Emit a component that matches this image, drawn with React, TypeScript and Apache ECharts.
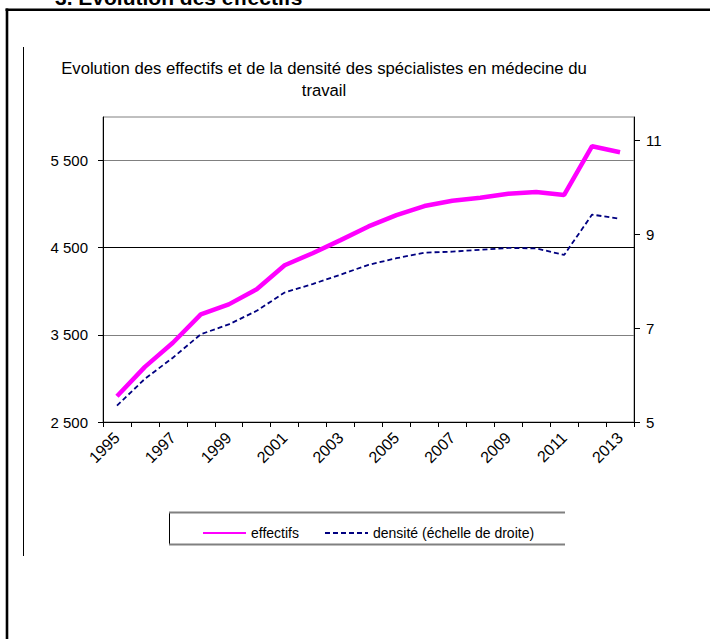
import React, { useEffect, useRef } from "react";
import * as echarts from "echarts";

const years = ["1995","1996","1997","1998","1999","2000","2001","2002","2003","2004","2005","2006","2007","2008","2009","2010","2011","2012","2013"];
const effectifs = [2795, 3133, 3409, 3735, 3850, 4023, 4299, 4437, 4587, 4744, 4874, 4978, 5039, 5074, 5120, 5139, 5105, 5665, 5595];
const densite = [5.35, 5.92, 6.37, 6.87, 7.08, 7.37, 7.76, 7.94, 8.14, 8.35, 8.49, 8.61, 8.63, 8.67, 8.71, 8.7, 8.56, 9.42, 9.33];
const leftTicks = [2500, 3500, 4500, 5500];
const rightTicks = [5, 7, 9, 11];
const seriesNames = ["effectifs", "densité (échelle de droite)"];
const chartTitle = "Evolution des effectifs et de la densité des spécialistes en médecine du\ntravail";
const sectionHeading = "3. Evolution des effectifs";

const FONT = "'Liberation Sans', Arial, sans-serif";

function fmtThousands(v: number): string {
  return String(v).replace(/\B(?=(\d{3})+$)/g, " ");
}

export default function App() {
  const ref = useRef<HTMLDivElement>(null);
  useEffect(() => {
    if (!ref.current) return;
    const chart = echarts.init(ref.current, null, { renderer: "svg" });
    chart.setOption({
      animation: false,
      backgroundColor: "#ffffff",
      textStyle: { fontFamily: FONT },
      grid: {
        left: 103,
        right: 76,
        top: 117,
        bottom: 217,
        show: true,
        borderColor: "#808080",
        borderWidth: 1,
        outerBoundsMode: "none",
      },
      legend: {
        left: 197,
        top: 521,
        itemWidth: 43,
        itemHeight: 14,
        itemGap: 25,
        selectedMode: false,
        itemStyle: { opacity: 0 },
        textStyle: { fontSize: 14, color: "#000", fontFamily: FONT },
        data: seriesNames,
      },
      xAxis: {
        type: "category",
        data: years,
        boundaryGap: true,
        axisLine: { lineStyle: { color: "#000", width: 1 } },
        axisTick: { show: true, interval: 0, length: 5, lineStyle: { color: "#000" } },
        axisLabel: {
          interval: 1,
          rotate: 45,
          margin: 13,
          fontSize: 16,
          color: "#000",
          fontFamily: FONT,
        },
        splitLine: { show: false },
      },
      yAxis: [
        {
          type: "value",
          min: 2500,
          max: 6000,
          position: "left",
          axisLine: { show: true, lineStyle: { color: "#000", width: 1 } },
          axisTick: { show: true, length: 5, customValues: leftTicks, lineStyle: { color: "#000" } },
          axisLabel: {
            customValues: leftTicks,
            margin: 15,
            fontSize: 15,
            color: "#000",
            fontFamily: FONT,
            formatter: (v: number) => fmtThousands(v),
          },
          splitLine: {
            show: true,
            lineStyle: { color: ["#808080", "#808080", "#000000", "#808080"], width: 1 },
          },
        },
        {
          type: "value",
          min: 5,
          max: 11.5,
          position: "right",
          axisLine: { show: true, lineStyle: { color: "#000", width: 1 } },
          axisTick: { show: true, length: 6, customValues: rightTicks, lineStyle: { color: "#000" } },
          axisLabel: {
            customValues: rightTicks,
            margin: 12,
            fontSize: 15,
            color: "#000",
            fontFamily: FONT,
          },
          splitLine: { show: false },
        },
      ],
      series: [
        {
          name: seriesNames[0],
          type: "line",
          data: effectifs,
          yAxisIndex: 0,
          symbol: "none",
          color: "#FF00FF",
          lineStyle: { color: "#FF00FF", width: 4.5 },
          z: 3,
        },
        {
          name: seriesNames[1],
          type: "line",
          data: densite,
          yAxisIndex: 1,
          symbol: "none",
          color: "#000080",
          lineStyle: { color: "#000080", width: 1.8, type: [5, 3] },
          z: 2,
        },
      ],
      graphic: [
        {
          type: "text",
          x: 55,
          y: -3,
          style: {
            text: sectionHeading,
            font: `bold 21px ${FONT}`,
            fill: "#000",
            textVerticalAlign: "middle",
          },
        },
        {
          type: "line",
          shape: { x1: 5.5, y1: 9.8, x2: 712, y2: 9.8 },
          style: { stroke: "#000", lineWidth: 2.6 },
        },
        {
          type: "line",
          shape: { x1: 7, y1: 8.5, x2: 7, y2: 640 },
          style: { stroke: "#000", lineWidth: 2.6 },
        },
        {
          type: "line",
          shape: { x1: 23.5, y1: 47, x2: 23.5, y2: 556 },
          style: { stroke: "#000", lineWidth: 1 },
        },
        {
          type: "text",
          x: 324,
          y: 57,
          style: {
            text: chartTitle,
            font: `16.7px ${FONT}`,
            fill: "#000",
            textAlign: "center",
            textVerticalAlign: "top",
            lineHeight: 22,
          },
        },
        {
          type: "line",
          shape: { x1: 169.5, y1: 512, x2: 169.5, y2: 545 },
          style: { stroke: "#000", lineWidth: 1 },
        },
        {
          type: "line",
          shape: { x1: 169, y1: 512.5, x2: 565, y2: 512.5 },
          style: { stroke: "#808080", lineWidth: 1.8 },
        },
        {
          type: "line",
          shape: { x1: 169, y1: 544.5, x2: 565, y2: 544.5 },
          style: { stroke: "#808080", lineWidth: 1.8 },
        },
      ],
    });
    return () => chart.dispose();
  }, []);
  return (
    <div
      ref={ref}
      style={{ position: "fixed", left: 0, top: 0, width: 710, height: 639, background: "#fff" }}
    />
  );
}
